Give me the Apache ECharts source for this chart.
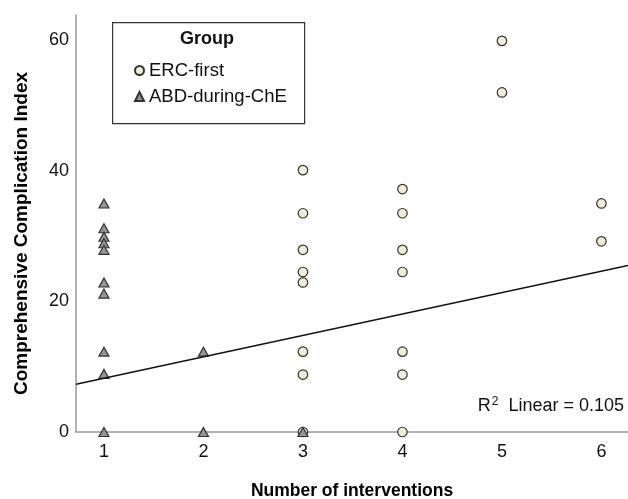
<!DOCTYPE html>
<html>
<head>
<meta charset="utf-8">
<script src="https://cdn.jsdelivr.net/npm/echarts@6/dist/echarts.min.js"></script>
<style>
html,body{margin:0;padding:0;background:#fff;}
#chart{width:628px;height:499px;}
</style>
</head>
<body>
<div id="chart"></div>
<script>
// ---- data ----
var ercX = [3, 3, 3, 3, 3, 3, 3, 3, 4, 4, 4, 4, 4, 4, 4, 5, 5, 6, 6];
var ercY = [40.1, 33.5, 27.9, 24.5, 22.9, 12.3, 8.8, 0, 37.2, 33.5, 27.9, 24.5, 12.3, 8.8, 0, 59.9, 52.0, 35.0, 29.2];
var abdX = [1, 1, 1, 1, 1, 1, 1, 1, 1, 1, 2, 2, 3];
var abdY = [35.0, 31.2, 29.9, 28.9, 27.9, 22.9, 21.2, 12.3, 8.9, 0, 12.3, 0, 0];
var seriesNames = ['ERC-first', 'ABD-during-ChE'];
var xTicks = [1, 2, 3, 4, 5, 6];
var yTicks = [0, 20, 40, 60];
var fitIntercept = 4.95;
var fitSlope = 3.28;
var fitLabel = 'Linear = 0.105';

var xMin = 0.719, xMax = 6.267, yMin = 0, yMax = 63.86;

function pairs(xs, ys) { return xs.map(function (x, i) { return [x, ys[i]]; }); }

var chart = echarts.init(document.getElementById('chart'), null, {renderer: 'canvas'});
var font = '"Liberation Sans", Arial, sans-serif';

chart.setOption({
  animation: false,
  backgroundColor: '#ffffff',
  textStyle: {fontFamily: font},
  grid: {left: 76, right: 0, top: 15, bottom: 67, containLabel: false, outerBoundsMode: 'none'},
  xAxis: {
    type: 'value', min: xMin, max: xMax, splitNumber: 6,
    name: 'Number of interventions', nameLocation: 'middle', nameGap: 50,
    nameTextStyle: {fontFamily: font, fontSize: 17.5, fontWeight: 'bold', color: '#000'},
    axisLine: {show: true, lineStyle: {color: '#9a9a9a', width: 1.5}},
    axisTick: {show: false},
    splitLine: {show: false},
    axisLabel: {
      fontFamily: font, fontSize: 18, color: '#111', margin: 11,
      formatter: function (v) {
        var r = Math.round(v);
        return (Math.abs(v - r) < 1e-6 && xTicks.indexOf(r) >= 0) ? String(r) : '';
      }
    }
  },
  yAxis: {
    type: 'value', min: yMin, max: yMax, interval: 20,
    name: 'Comprehensive Complication Index', nameLocation: 'middle', nameGap: 45,
    nameTextStyle: {fontFamily: font, fontSize: 19, fontWeight: 'bold', color: '#000', padding: [0, 20, 0, 0]},
    axisLine: {show: true, lineStyle: {color: '#9a9a9a', width: 1.5}},
    axisTick: {show: false},
    splitLine: {show: false},
    axisLabel: {
      fontFamily: font, fontSize: 18, color: '#111', margin: 7,
      formatter: function (v) {
        var r = Math.round(v);
        return (Math.abs(v - r) < 1e-6 && yTicks.indexOf(r) >= 0) ? String(r) : '';
      }
    }
  },
  legend: {
    show: true, orient: 'vertical', left: 134, top: 61,
    itemWidth: 9, itemHeight: 9, itemGap: 7, padding: 0,
    textStyle: {fontFamily: font, fontSize: 18.5, color: '#111'},
    data: seriesNames
  },
  graphic: [
    {type: 'rect', left: 112, top: 22, z: 5,
     shape: {width: 192, height: 101},
     style: {fill: 'transparent', stroke: '#333', lineWidth: 1.2}},
    {type: 'text', left: 180, top: 30, z: 5,
     style: {text: 'Group', font: 'bold 18px ' + font, fill: '#111'}},
    {type: 'text', right: 4, top: 396, z: 5,
     style: {
       text: '{r|R}{s|2}{r|  ' + fitLabel + '}',
       rich: {
         r: {fontFamily: font, fontSize: 18, fill: '#111', color: '#111'},
         s: {fontFamily: font, fontSize: 12, fill: '#111', color: '#111', padding: [0, 0, 9, 1]}
       }
     }}
  ],
  series: [
    {
      name: seriesNames[0], type: 'scatter', symbol: 'circle', symbolSize: 9.5, z: 3,
      itemStyle: {color: '#f1ecd3', borderColor: '#333', borderWidth: 1.2, opacity: 1},
      data: pairs(ercX, ercY)
    },
    {
      name: seriesNames[1], type: 'scatter', symbol: 'triangle', symbolSize: [10, 9], z: 3,
      itemStyle: {color: '#959595', borderColor: '#333', borderWidth: 1.2, opacity: 1},
      data: pairs(abdX, abdY)
    },
    {
      name: 'Linear fit', type: 'line', z: 4, silent: true,
      showSymbol: false, symbol: 'none',
      lineStyle: {color: '#111', width: 1.4},
      data: [[xMin, fitIntercept + fitSlope * xMin], [xMax, fitIntercept + fitSlope * xMax]]
    }
  ]
});
</script>
</body>
</html>
